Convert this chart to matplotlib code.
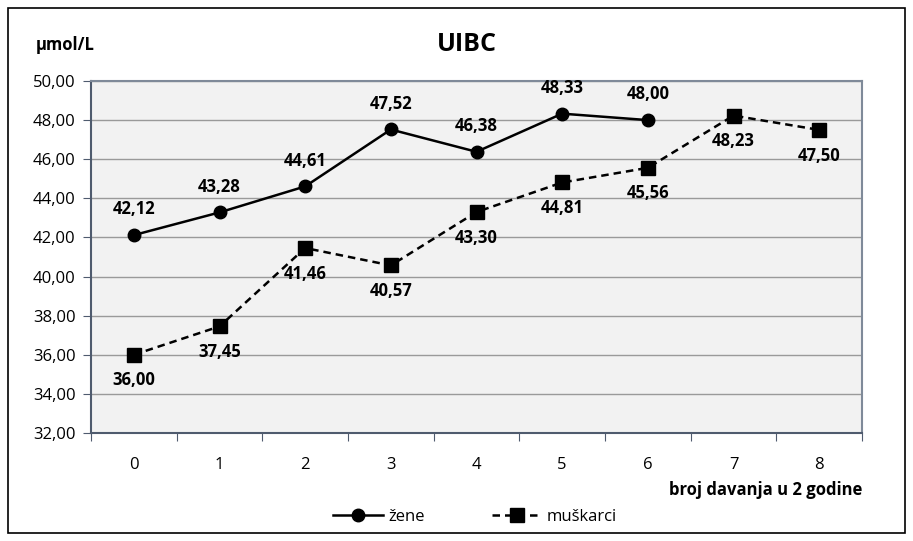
import matplotlib
matplotlib.use("Agg")
import matplotlib.pyplot as plt
from matplotlib.patches import Rectangle

# data
categories = [0, 1, 2, 3, 4, 5, 6, 7, 8]
zene = [42.12, 43.28, 44.61, 47.52, 46.38, 48.33, 48.00]
muskarci = [36.00, 37.45, 41.46, 40.57, 43.30, 44.81, 45.56, 48.23, 47.50]
y_ticks = [32, 34, 36, 38, 40, 42, 44, 46, 48, 50]

plt.rcParams['font.family'] = ['Open Sans', 'DejaVu Sans']


def comma(v):
    return f"{v:.2f}".replace('.', ',')


fig = plt.figure(figsize=(9.13, 5.41), dpi=100)
ax = fig.add_axes([91 / 913, 1 - 433 / 541, (862 - 91) / 913, (433 - 81) / 541])
ax.set_facecolor('#F2F2F2')

# outer chart border
fig.patches.append(Rectangle((8 / 913, 8 / 541), 897 / 913, 525 / 541,
                             transform=fig.transFigure, fill=False,
                             edgecolor='black', linewidth=1.2))

x_z = categories[:len(zene)]
ax.plot(x_z, zene, color='black', linewidth=1.8, marker='o', markersize=9,
        label='žene', zorder=3)
ax.plot(categories, muskarci, color='black', linewidth=1.8, linestyle=(0, (3, 2)),
        marker='s', markersize=10, label='muškarci', zorder=3)

for x, v in zip(x_z, zene):
    ax.annotate(comma(v), (x, v), xytext=(0, 12), textcoords='offset points',
                ha='center', va='bottom', fontsize=12, fontweight='bold')
for x, v in zip(categories, muskarci):
    ax.annotate(comma(v), (x, v), xytext=(0, -12), textcoords='offset points',
                ha='center', va='top', fontsize=12, fontweight='bold')

ax.set_xlim(-0.5, 8.5)
ax.set_ylim(32, 50)
ax.set_yticks(y_ticks)
ax.set_yticklabels([comma(t) for t in y_ticks], fontsize=12)
ax.yaxis.grid(True, color='#9A9A9A', linewidth=1)
ax.set_axisbelow(True)

# category ticks between the points, labels at the points
ax.set_xticks([c - 0.5 for c in categories] + [8.5])
ax.set_xticklabels([])
ax.set_xticks(categories, minor=True)
ax.set_xticklabels([str(c) for c in categories], minor=True, fontsize=12)
ax.tick_params(axis='x', which='major', length=6, color='#4F5B6E', direction='out')
ax.tick_params(axis='x', which='minor', length=0, pad=17)
ax.tick_params(axis='y', length=6, color='#4F5B6E', direction='out', pad=5)

for side in ['left', 'bottom']:
    ax.spines[side].set_color('#4F5B6E')
    ax.spines[side].set_linewidth(1.5)
for side in ['top', 'right']:
    ax.spines[side].set_color('#7F8A99')
    ax.spines[side].set_linewidth(1.5)

fig.text(467 / 913, 1 - 45 / 541, 'UIBC', ha='center', va='center',
         fontsize=18, fontweight='bold')
fig.text(36 / 913, 1 - 45 / 541, 'µmol/L', ha='left', va='center',
         fontsize=12, fontweight='bold')
fig.text(862 / 913, 1 - 490 / 541, 'broj davanja u 2 godine', ha='right',
         va='center', fontsize=12, fontweight='bold')

fig.legend(loc='center', bbox_to_anchor=(475 / 913, 1 - 517 / 541), ncol=2,
           frameon=False, fontsize=12, handlelength=3, columnspacing=4,
           handletextpad=0.3)

fig.savefig('out.png', dpi=100)
